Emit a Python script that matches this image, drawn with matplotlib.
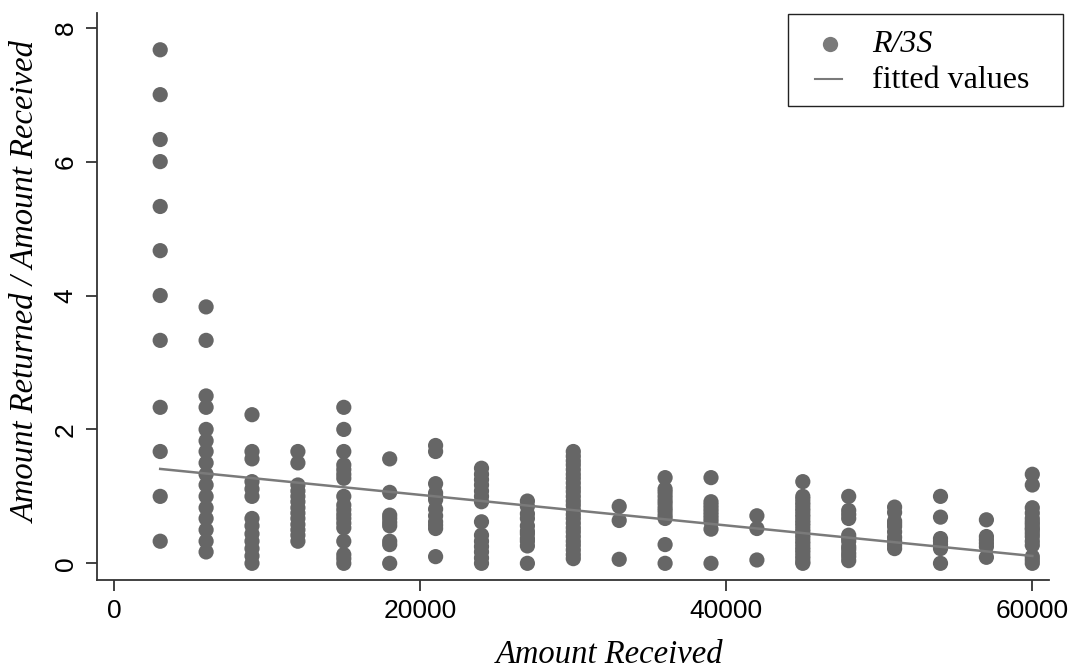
import numpy as np
import matplotlib
matplotlib.use("Agg")
import matplotlib.pyplot as plt
from matplotlib.lines import Line2D
from matplotlib.patches import Rectangle

# amount received (each column of points)
received = [3000, 6000, 9000, 12000, 15000, 18000, 21000, 24000, 27000, 30000,
            33000, 36000, 39000, 42000, 45000, 48000, 51000, 54000, 57000, 60000]

# amount returned / amount received
r3000 = [7.67, 7.0, 6.33, 6.0, 5.33, 4.67, 4.0, 3.33, 2.33, 1.67, 1.0, 0.33]
r6000 = [3.83, 3.33, 2.5, 2.33, 2.0, 1.83, 1.67, 1.5, 1.33, 1.17, 1.0, 0.83,
         0.67, 0.5, 0.33, 0.17]
r9000 = [2.22, 1.67, 1.56, 1.22, 1.11, 1.0, 0.67, 0.56, 0.44, 0.33, 0.22, 0.11, 0.0]
r12000 = [1.67, 1.5, 1.17, 1.08, 1.0, 0.92, 0.83, 0.75, 0.67, 0.58, 0.5, 0.42, 0.33]
r15000 = [2.33, 2.0, 1.67, 1.47, 1.4, 1.33, 1.27, 1.0, 0.87, 0.8, 0.73, 0.67, 0.6,
          0.53, 0.33, 0.13, 0.07, 0.0]
r18000 = [1.56, 1.06, 0.72, 0.67, 0.61, 0.56, 0.33, 0.28, 0.0]
r21000 = [1.76, 1.67, 1.19, 1.05, 1.0, 0.95, 0.81, 0.71, 0.62, 0.57, 0.52, 0.1]
r24000 = [1.42, 1.33, 1.25, 1.17, 1.08, 1.0, 0.92, 0.62, 0.42, 0.33, 0.25, 0.17,
          0.08, 0.0]
r27000 = [0.93, 0.85, 0.74, 0.67, 0.56, 0.48, 0.44, 0.37, 0.33, 0.26, 0.0]
r30000 = [1.67, 1.6, 1.53, 1.47, 1.4, 1.33, 1.27, 1.2, 1.13, 1.07, 1.0, 0.93, 0.87,
          0.8, 0.73, 0.67, 0.6, 0.53, 0.47, 0.4, 0.33, 0.27, 0.2, 0.13, 0.07]
r33000 = [0.85, 0.64, 0.06]
r36000 = [1.28, 1.11, 1.06, 1.0, 0.94, 0.89, 0.83, 0.78, 0.72, 0.67, 0.28, 0.0]
r39000 = [1.28, 0.92, 0.87, 0.82, 0.77, 0.72, 0.67, 0.62, 0.51, 0.0]
r42000 = [0.71, 0.52, 0.05]
r45000 = [1.22, 1.0, 0.96, 0.91, 0.87, 0.82, 0.78, 0.73, 0.69, 0.64, 0.6, 0.56,
          0.51, 0.47, 0.42, 0.38, 0.33, 0.29, 0.24, 0.2, 0.16, 0.11, 0.07, 0.02, 0.0]
r48000 = [1.0, 0.79, 0.73, 0.67, 0.42, 0.375, 0.33, 0.25, 0.21, 0.15, 0.1, 0.04]
r51000 = [0.84, 0.76, 0.63, 0.59, 0.55, 0.47, 0.39, 0.33, 0.27, 0.22]
r54000 = [1.0, 0.69, 0.37, 0.33, 0.28, 0.22, 0.0]
r57000 = [0.65, 0.4, 0.35, 0.3, 0.25, 0.09]
r60000 = [1.33, 1.17, 0.83, 0.75, 0.67, 0.62, 0.58, 0.53, 0.5, 0.45, 0.4, 0.33,
          0.27, 0.1, 0.05, 0.0]

ratios = [r3000, r6000, r9000, r12000, r15000, r18000, r21000, r24000, r27000, r30000,
          r33000, r36000, r39000, r42000, r45000, r48000, r51000, r54000, r57000, r60000]

# fitted values line (end points)
fit_x = [3000, 60000]
fit_y = [1.41, 0.11]

x_ticks = [0, 20000, 40000, 60000]
y_ticks = [0, 2, 4, 6, 8]
legend_labels = ['R/3S', 'fitted values']

xs = np.concatenate([[x] * len(r) for x, r in zip(received, ratios)])
ys = np.concatenate(ratios)

W, H = 1073, 668
fig = plt.figure(figsize=(W / 100, H / 100), dpi=100)
ax = fig.add_axes([97.3 / W, (H - 580) / H, (1049.3 - 97.3) / W, (580 - 12.7) / H])

ax.scatter(xs, ys, s=120, color='#666666', edgecolors='none', zorder=2)
ax.plot(fit_x, fit_y, color='#7a7a7a', lw=1.8, zorder=3)

ax.set_xlim(-1111, 61111)
ax.set_ylim(-0.249, 8.224)

for s in ['top', 'right']:
    ax.spines[s].set_visible(False)
for s in ['left', 'bottom']:
    ax.spines[s].set_color('#333333')
    ax.spines[s].set_linewidth(1.3)

ax.set_xticks(x_ticks)
ax.set_yticks(y_ticks)
ax.set_xticklabels([str(t) for t in x_ticks], family='Liberation Sans', fontsize=19)
ax.set_yticklabels([str(t) for t in y_ticks], family='Liberation Sans', fontsize=19,
                   rotation=90, va='center')
ax.tick_params(length=8, width=1.3, color='#333333', pad=6)

ax.set_xlabel('Amount Received', family='Liberation Serif', style='italic', fontsize=23.5)
ax.set_ylabel('Amount Returned / Amount Received', family='Liberation Serif',
              style='italic', fontsize=23.5)
ax.xaxis.set_label_coords(0.538, -0.105)
ax.yaxis.set_label_coords(-0.058, 0.525)

# legend box drawn by hand (Stata style)
fig.add_artist(Rectangle((788 / W, 1 - 106 / H), (1063 - 788) / W, 92 / H,
                         transform=fig.transFigure, fill=False,
                         edgecolor='#222222', lw=1.0))
fig.add_artist(Line2D([830 / W], [1 - 44 / H], transform=fig.transFigure,
                      ls='none', marker='o', ms=11, color='#7a7a7a', mec='none'))
fig.add_artist(Line2D([815 / W, 842 / W], [1 - 79 / H, 1 - 79 / H],
                      transform=fig.transFigure, color='#7a7a7a', lw=1.5))
fig.text(872 / W, 1 - 45 / H, legend_labels[0], family='Liberation Serif',
         style='italic', fontsize=23, va='center', ha='left')
fig.text(872 / W, 1 - 81 / H, legend_labels[1], family='Liberation Serif',
         fontsize=23, va='center', ha='left')

fig.savefig('out.png', dpi=100, facecolor='white')
